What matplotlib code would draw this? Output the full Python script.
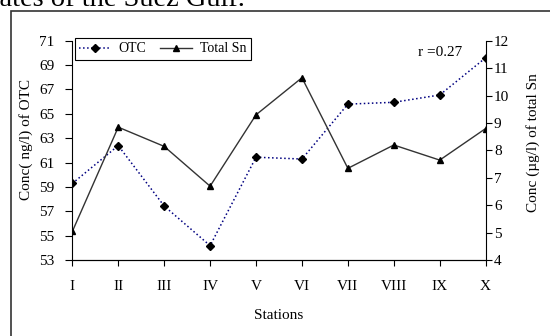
import matplotlib.pyplot as plt
from matplotlib.patches import Rectangle

# values
stations = ['I', 'II', 'III', 'IV', 'V', 'VI', 'VII', 'VIII', 'IX', 'X']
otc = [59.3, 62.4, 57.45, 54.2, 61.45, 61.3, 65.8, 65.95, 66.55, 69.6]
total_sn = [5.05, 8.85, 8.15, 6.7, 9.3, 10.65, 7.35, 8.2, 7.65, 8.8]

plt.rcParams['font.family'] = 'Liberation Serif'
plt.rcParams['font.size'] = 11

fig = plt.figure(figsize=(5.5, 3.36), dpi=100)
ax = fig.add_axes([0.1315, 0.2253, 0.7515, 0.6536])
ax2 = ax.twinx()

x = range(len(stations))
l1, = ax.plot(x, otc, linestyle=':', color='#000080', lw=1.1,
              marker='D', markersize=3.6, markerfacecolor='black',
              markeredgecolor='black', label='OTC')
l2, = ax2.plot(x, total_sn, linestyle='-', color='#333333', lw=1,
               marker='^', markersize=4.5, markerfacecolor='black',
               markeredgecolor='black', label='Total Sn')

ax.set_xlim(0, len(stations) - 1)
ax.set_ylim(53, 71)
ax.set_yticks(range(53, 72, 2))
ax2.set_ylim(4, 12)
ax2.set_yticks(range(4, 13))
ax.set_xticks(list(x))
ax.set_xticklabels(stations)

for a in (ax, ax2):
    a.spines['top'].set_visible(False)
    a.tick_params(direction='out', length=5, width=0.8, colors='black')
ax.spines['right'].set_visible(False)
ax2.spines['left'].set_visible(False)
ax.tick_params(axis='y', pad=8)
ax2.tick_params(axis='y', length=4, pad=2)
ax.tick_params(axis='x', length=4, pad=10)

ax.set_xlabel('Stations')
ax.xaxis.set_label_coords(0.5, -0.221)
ax.set_ylabel('Conc( ng/l) of OTC')
ax.yaxis.set_label_coords(-0.095, 0.548)
ax2.set_ylabel('Conc (\u00b5g/l) of total Sn')
ax2.yaxis.set_label_coords(1.0975, 0.535)

leg = ax2.legend(handles=[l1, l2], ncol=2, loc='upper left',
                 bbox_to_anchor=(0.0065, 1.011), borderaxespad=0,
                 fancybox=False, framealpha=1, edgecolor='black',
                 fontsize=10, handlelength=2.3, columnspacing=1.0,
                 handletextpad=0.55, borderpad=0.3)
leg.get_frame().set_linewidth(0.8)

ax2.text(0.889, 0.945, 'r =0.27', transform=ax.transAxes, ha='center', va='center')

# outer frame and clipped caption line
fig.patches.append(Rectangle((0.02, -0.1), 1.1, 1.067, transform=fig.transFigure,
                             fill=False, edgecolor='#333333', lw=1.2))
fig.text(-0.018, 1 - 5.5 / 336, 'rates of the Suez Gulf.', fontsize=20.5,
         va='baseline', ha='left')

fig.savefig('out.png', dpi=100)
